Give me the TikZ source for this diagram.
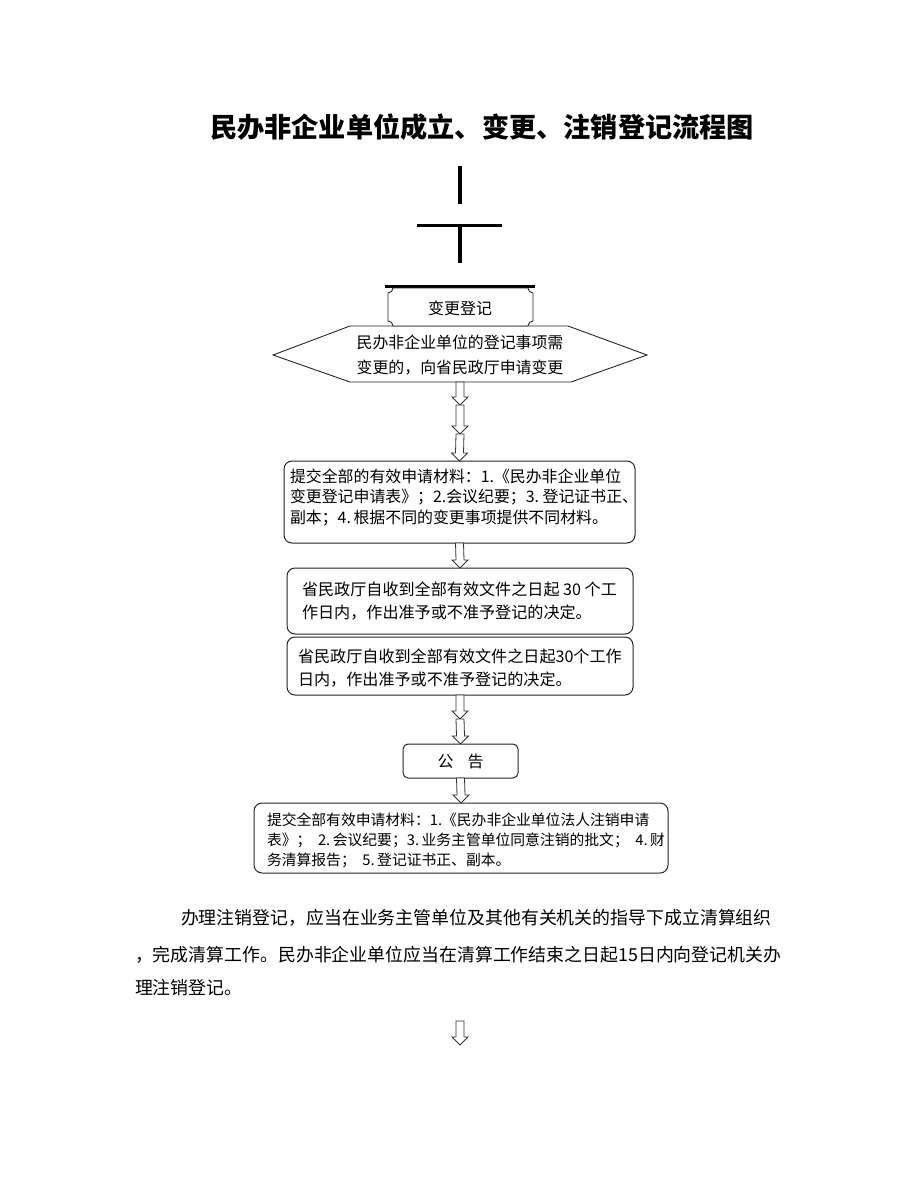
\documentclass[tikz,border=0pt]{standalone}
\usepackage{fontspec}
\setmainfont{Noto Sans CJK SC}
\usetikzlibrary{calc}
\newcommand{\hollowdown}[2]{\draw[harrow] ($(#1)+(-4,0)$) -- ($(#2)+(-4,-8)$) -- ($(#2)+(-8,-8)$) -- (#2) -- ($(#2)+(8,-8)$) -- ($(#2)+(4,-8)$) -- ($(#1)+(4,0)$) -- cycle;}
\begin{document}
\begin{tikzpicture}[x=1pt,y=-1pt,
  every node/.style={inner sep=0pt, outer sep=0pt},
  txta/.style={font=\fontsize{15.9}{20.5}\selectfont, align=left, anchor=west},
  txtb/.style={font=\fontsize{16.1}{23}\selectfont, align=left, anchor=west},
  txtc/.style={font=\fontsize{14.8}{20}\selectfont, align=left, anchor=west},
  para/.style={font=\fontsize{17.9}{20}\selectfont, anchor=west},
  rbox/.style={draw=black!85, line width=1pt, rounded corners=8pt, fill=white},
  bar/.style={line width=3.6pt},
  hbar/.style={line width=3pt},
  harrow/.style={draw=black!80, line width=0.8pt, fill=white},
  outline/.style={draw=black!85, line width=0.9pt, fill=white},
]
\useasboundingbox (0,0) rectangle (920,1191);
\fill[white] (0,0) rectangle (920,1191);

% title
\node[font=\bfseries\fontsize{27.2}{32}\selectfont] (title) at (482,127) {民办非企业单位成立、变更、注销登记流程图};

% top lines
\coordinate (v1a) at (460,166); \coordinate (v1b) at (460,204);
\draw[bar] (v1a) -- (v1b);
\coordinate (h1l) at (417,225); \coordinate (h1r) at (502,225);
\draw[hbar] (h1l) -- (h1r);
\coordinate (v2a) at (460,225); \coordinate (v2b) at (460,263);
\draw[bar] (v2a) -- (v2b);
\coordinate (h2l) at (385,286); \coordinate (h2r) at (535,286);
\draw[hbar] (h2l) -- (h2r);

% hexagon
\draw[outline] (273,355) -- (350,326) -- (568,326) -- (647,355) -- (571,382) -- (350,382) -- cycle;
\node[anchor=center, align=center, font=\fontsize{15.9}{25}\selectfont] (hex) at (460,355.5) {民办非企业单位的登记事项需\\变更的，向省民政厅申请变更};

% plaque box
\draw[outline] (393,288) -- (528,288) .. controls (528,290.76) and (530.24,293) .. (533,293)
  -- (533,321) .. controls (530.24,321) and (528,323.24) .. (528,326)
  -- (393,326) .. controls (393,323.24) and (390.76,321) .. (388,321)
  -- (388,293) .. controls (390.76,293) and (393,290.76) .. (393,288) -- cycle;
\node[font=\fontsize{16}{18}\selectfont] (chg) at (460,308) {变更登记};

% box 1
\node[rbox, minimum width=351, minimum height=82] (b1) at (459.5,502) {};
\node[txta] (t1) at (290,497.5) {提交全部的有效申请材料：1.《民办非企业单位\\变更登记申请表》；2.会议纪要；3.\ 登记证书正、\\副本；4.\,根据不同的变更事项提供不同材料。};

% box 2
\node[rbox, minimum width=346, minimum height=66] (b2) at (460,601) {};
\node[txtb] (t2) at (302,601.5) {省民政厅自收到全部有效文件之日起\ 30\ 个工\\作日内，作出准予或不准予登记的决定。};

% box 3
\node[rbox, minimum width=346, minimum height=58] (b3) at (460,666) {};
\node[txtb] (t3) at (298,668.5) {省民政厅自收到全部有效文件之日起30个工作\\日内，作出准予或不准予登记的决定。};

% gonggao
\node[rbox, rounded corners=5pt, minimum width=115, minimum height=34, font=\fontsize{16}{18}\selectfont] (gg) at (460.5,761) {公\hspace{14pt}告};

% box 4
\node[rbox, minimum width=414, minimum height=70] (b4) at (461,838) {};
\node[txtc] (t4) at (267,840) {提交全部有效申请材料：1.《民办非企业单位法人注销申请\\表》；\ \ 2.\,会议纪要；3.\,业务主管单位同意注销的批文；\ \ 4.\,财\\务清算报告；\ \ 5.\,登记证书正、副本。};

% arrows
\coordinate (a1s) at (460,382); \coordinate (a1e) at (460,405);
\coordinate (a2s) at (460,405); \coordinate (a2e) at (460,434);
\coordinate (a3s) at (460,434); \coordinate (a3e) at (b1.north);
\hollowdown{a1s}{a1e}
\hollowdown{a2s}{a2e}
\hollowdown{a3s}{a3e}
\hollowdown{b1.south}{b2.north}
\coordinate (a5s) at (b3.south); \coordinate (a5e) at (460,719);
\hollowdown{a5s}{a5e}
\coordinate (a6s) at (460,719);
\hollowdown{a6s}{gg.north}
\hollowdown{gg.south}{b4.north}

% paragraph
\node[para] (p1) at (181,918) {办理注销登记，应当在业务主管单位及其他有关机关的指导下成立清算组织};
\node[para] (p2) at (135,955) {，完成清算工作。民办非企业单位应当在清算工作结束之日起15日内向登记机关办};
\node[para] (p3) at (135,988) {理注销登记。};

% final arrow
\coordinate (fa) at (460,1021); \coordinate (fb) at (460,1045);
\hollowdown{fa}{fb}
\end{tikzpicture}
\end{document}
